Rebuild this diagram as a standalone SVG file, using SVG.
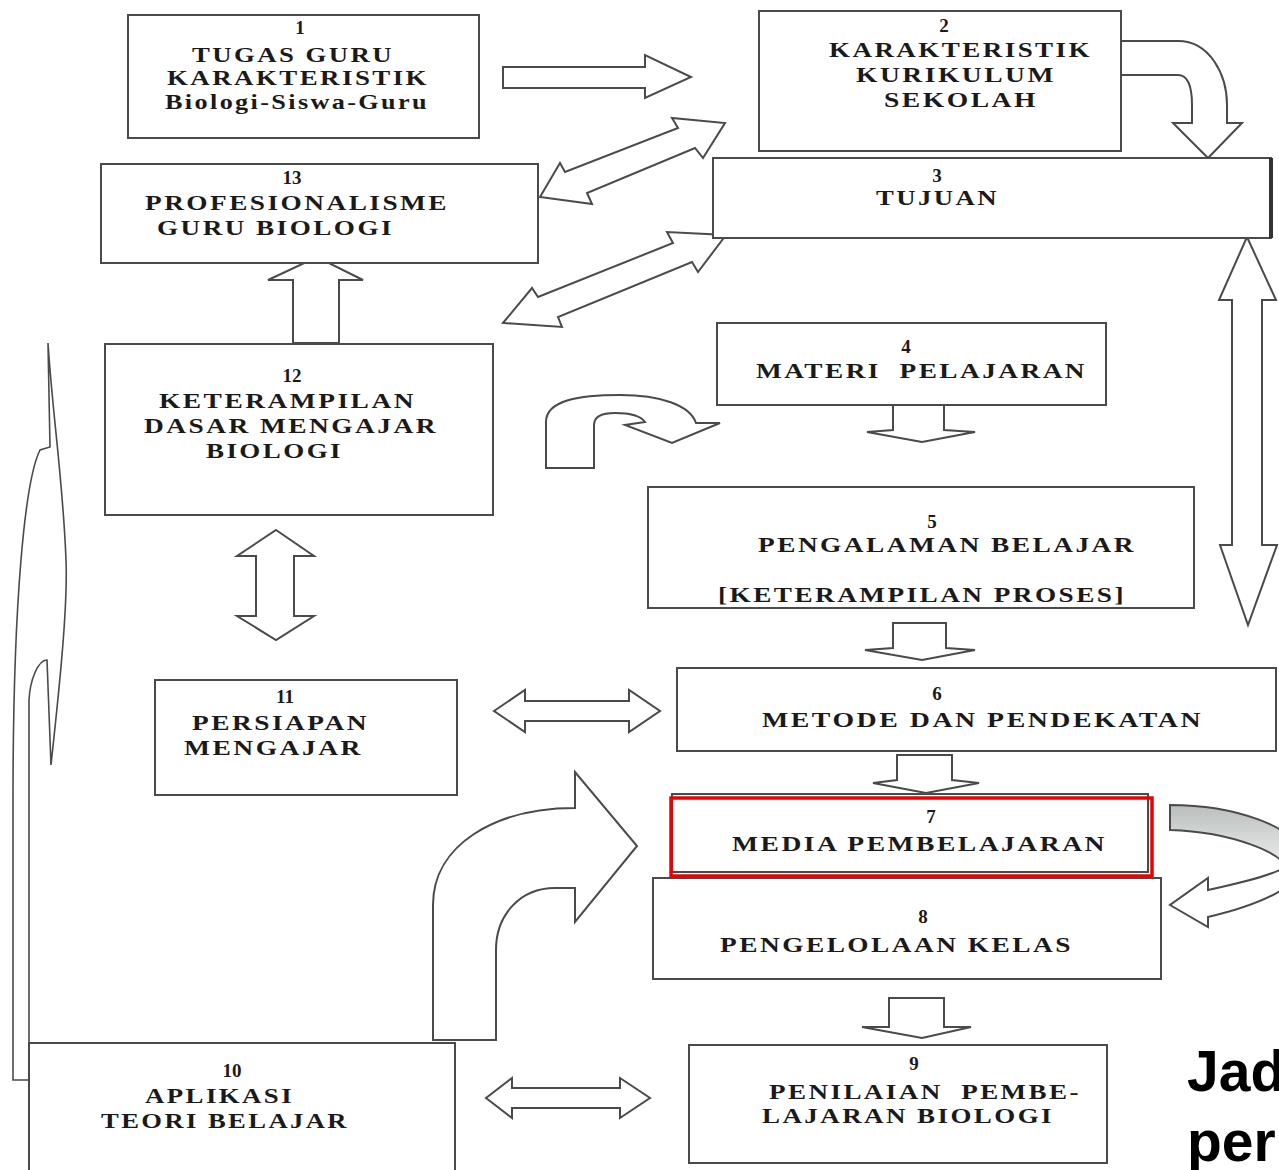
<svg xmlns="http://www.w3.org/2000/svg" width="1279" height="1170" viewBox="0 0 1279 1170">
<defs>
<style>
.box{fill:#fff;stroke:#4a4a4a;stroke-width:2}
.arr{fill:#fff;stroke:#4a4a4a;stroke-width:2;stroke-linejoin:miter}
.t{font-family:"Liberation Serif","Times New Roman",serif;font-weight:bold;font-size:22px;letter-spacing:2px;fill:#1a1a1a;white-space:pre}
.n{font-size:19px;letter-spacing:0}
.j{font-family:"Liberation Sans",Arial,sans-serif;font-weight:bold;font-size:57px;fill:#000}
</style>
<linearGradient id="gr" gradientUnits="userSpaceOnUse" x1="0" y1="805" x2="0" y2="880">
<stop offset="0" stop-color="#b9bfbc"/>
<stop offset="0.6" stop-color="#dfe2e0"/>
<stop offset="1" stop-color="#ffffff"/>
</linearGradient>
</defs>
<rect width="1279" height="1170" fill="#fff"/>

<g id="connectors">
<polygon class="arr" points="503,67 645,67 645,55 691,77 645,98 645,88 503,88"/>
<path class="arr" d="M1120,41 L1178,41 C1210,41 1227,75 1227,105 L1227,123 L1242,123 L1208,158 L1173,123 L1192,123 L1192,105 C1192,88 1188,75 1178,75 L1120,75 Z"/>
<polygon class="arr" points="540,197 560,163 565,172 678,128 672,118 725,123 703,158 695,148 587,193 592,204"/>
<polygon class="arr" points="503,323 532,288 538,297 673,243 667,232 726,235 698,272 692,262 558,317 562,327"/>
<polygon class="arr" points="293,343 293,280 268,280 317,257 363,280 339,280 339,343"/>
<polygon class="arr" points="1247,237 1276,300 1262,300 1262,545 1277,545 1248,625 1220,545 1232,545 1232,300 1219,300"/>
<polygon class="arr" points="276,530 314,556 294,556 294,616 314,616 276,640 237,616 256,616 256,556 237,556"/>
<path class="arr" d="M546,468 L546,422 C546,400 580,395 620,395 C660,395 690,405 696,423 L720,423 L672,443 L625,425 L645,422 C640,415 628,413 615,413 C600,413 594,417 594,425 L594,468 Z"/>
<polygon class="arr" points="893,405 944,405 944,430 975,432 922,442 867,432 893,430"/>
<polygon class="arr" points="893,623 946,623 946,648 975,650 922,660 865,650 893,648"/>
<polygon class="arr" points="897,755 952,755 952,780 979,783 926,793 873,783 897,780"/>
<polygon class="arr" points="889,998 944,998 944,1027 971,1027 922,1038 862,1027 889,1027"/>
<polygon class="arr" points="494,711 525,690 525,701 629,701 629,690 660,711 629,732 629,721 525,721 525,732"/>
<polygon class="arr" points="486,1098 512,1078 512,1088 620,1088 620,1078 650,1098 620,1118 620,1108 512,1108 512,1118"/>
<path class="arr" d="M433,1040 L433,905 C433,845 495,808 575,808 L575,772 L637,846 L575,922 L575,888 L555,888 C520,888 496,915 496,950 L496,1040 Z"/>
<path class="arr" style="fill:url(#gr)" d="M1170,805 C1230,805 1300,825 1305,860 C1305,885 1260,905 1208,917 L1208,927 L1170,905 L1208,878 L1208,890 C1245,882 1283,872 1284,866 C1284,855 1235,832 1170,830 Z"/>
<path class="arr" style="stroke-width:1.6" d="M48,343 L50,447 L40,450 C25,480 13,600 13,800 L13,1080 L29,1080 L29,700 C30,680 38,660 47,660 L51,765 C58,700 68,610 66,560 C63,480 53,420 48,343 Z"/>
</g>

<g id="node1">
<rect class="box" x="128" y="15" width="351" height="123"/>
<text class="t n" x="300" y="34" text-anchor="middle">1</text>
<text class="t" x="192" y="62" textLength="202" lengthAdjust="spacingAndGlyphs">TUGAS GURU</text>
<text class="t" x="167" y="85" textLength="262" lengthAdjust="spacingAndGlyphs">KARAKTERISTIK</text>
<text class="t" x="165" y="109" textLength="264" lengthAdjust="spacingAndGlyphs">Biologi-Siswa-Guru</text>
</g>

<g id="node2">
<rect class="box" x="759" y="11" width="362" height="140"/>
<text class="t n" x="944" y="32" text-anchor="middle">2</text>
<text class="t" x="829" y="57" textLength="263" lengthAdjust="spacingAndGlyphs">KARAKTERISTIK</text>
<text class="t" x="856" y="82" textLength="200" lengthAdjust="spacingAndGlyphs">KURIKULUM</text>
<text class="t" x="884" y="107" textLength="154" lengthAdjust="spacingAndGlyphs">SEKOLAH</text>
</g>

<g id="node3">
<rect class="box" x="713" y="158" width="558" height="80"/>
<line x1="1271" y1="158" x2="1271" y2="238" stroke="#333" stroke-width="4"/>
<text class="t n" x="937" y="182" text-anchor="middle">3</text>
<text class="t" x="876" y="205" textLength="123" lengthAdjust="spacingAndGlyphs">TUJUAN</text>
</g>

<g id="node13">
<rect class="box" x="101" y="164" width="437" height="99"/>
<text class="t n" x="292" y="184" text-anchor="middle">13</text>
<text class="t" x="145" y="210" textLength="304" lengthAdjust="spacingAndGlyphs">PROFESIONALISME</text>
<text class="t" x="157" y="235" textLength="237" lengthAdjust="spacingAndGlyphs">GURU BIOLOGI</text>
</g>

<g id="node12">
<rect class="box" x="105" y="344" width="388" height="171"/>
<text class="t n" x="292" y="382" text-anchor="middle">12</text>
<text class="t" x="159" y="408" textLength="257" lengthAdjust="spacingAndGlyphs">KETERAMPILAN</text>
<text class="t" x="144" y="433" textLength="294" lengthAdjust="spacingAndGlyphs">DASAR MENGAJAR</text>
<text class="t" x="206" y="458" textLength="137" lengthAdjust="spacingAndGlyphs">BIOLOGI</text>
</g>

<g id="node4">
<rect class="box" x="717" y="323" width="389" height="82"/>
<text class="t n" x="906" y="353" text-anchor="middle">4</text>
<text class="t" x="756" y="378" textLength="331" lengthAdjust="spacingAndGlyphs">MATERI  PELAJARAN</text>
</g>

<g id="node5">
<rect class="box" x="648" y="487" width="546" height="121"/>
<text class="t n" x="932" y="528" text-anchor="middle">5</text>
<text class="t" x="758" y="552" textLength="378" lengthAdjust="spacingAndGlyphs">PENGALAMAN BELAJAR</text>
<text class="t" x="718" y="602" textLength="408" lengthAdjust="spacingAndGlyphs">[KETERAMPILAN PROSES]</text>
</g>

<g id="node6">
<rect class="box" x="677" y="668" width="599" height="83"/>
<text class="t n" x="937" y="700" text-anchor="middle">6</text>
<text class="t" x="762" y="727" textLength="441" lengthAdjust="spacingAndGlyphs">METODE DAN PENDEKATAN</text>
</g>

<g id="node7">
<rect class="box" x="672" y="794" width="476" height="78"/>
<rect x="671" y="798" width="481" height="78" fill="none" stroke="#ee0000" stroke-width="3.5"/>
<text class="t n" x="931" y="823" text-anchor="middle">7</text>
<text class="t" x="732" y="851" textLength="375" lengthAdjust="spacingAndGlyphs">MEDIA PEMBELAJARAN</text>
</g>

<g id="node8">
<rect class="box" x="653" y="878" width="508" height="101"/>
<text class="t n" x="923" y="923" text-anchor="middle">8</text>
<text class="t" x="720" y="952" textLength="353" lengthAdjust="spacingAndGlyphs">PENGELOLAAN KELAS</text>
</g>

<g id="node9">
<rect class="box" x="689" y="1045" width="418" height="118"/>
<text class="t n" x="914" y="1070" text-anchor="middle">9</text>
<text class="t" x="769" y="1099" textLength="312" lengthAdjust="spacingAndGlyphs">PENILAIAN  PEMBE-</text>
<text class="t" x="762" y="1123" textLength="292" lengthAdjust="spacingAndGlyphs">LAJARAN BIOLOGI</text>
</g>

<g id="node10">
<rect class="box" x="29" y="1043" width="426" height="135"/>
<text class="t n" x="232" y="1077" text-anchor="middle">10</text>
<text class="t" x="145" y="1103" textLength="149" lengthAdjust="spacingAndGlyphs">APLIKASI</text>
<text class="t" x="101" y="1128" textLength="248" lengthAdjust="spacingAndGlyphs">TEORI BELAJAR</text>
</g>

<g id="node11">
<rect class="box" x="155" y="680" width="302" height="115"/>
<text class="t n" x="285" y="703" text-anchor="middle">11</text>
<text class="t" x="192" y="730" textLength="177" lengthAdjust="spacingAndGlyphs">PERSIAPAN</text>
<text class="t" x="184" y="755" textLength="179" lengthAdjust="spacingAndGlyphs">MENGAJAR</text>
</g>

<g id="caption">
<text class="j" x="1187" y="1091">Jad</text>
<text class="j" x="1187" y="1161">per</text>
</g>
</svg>
